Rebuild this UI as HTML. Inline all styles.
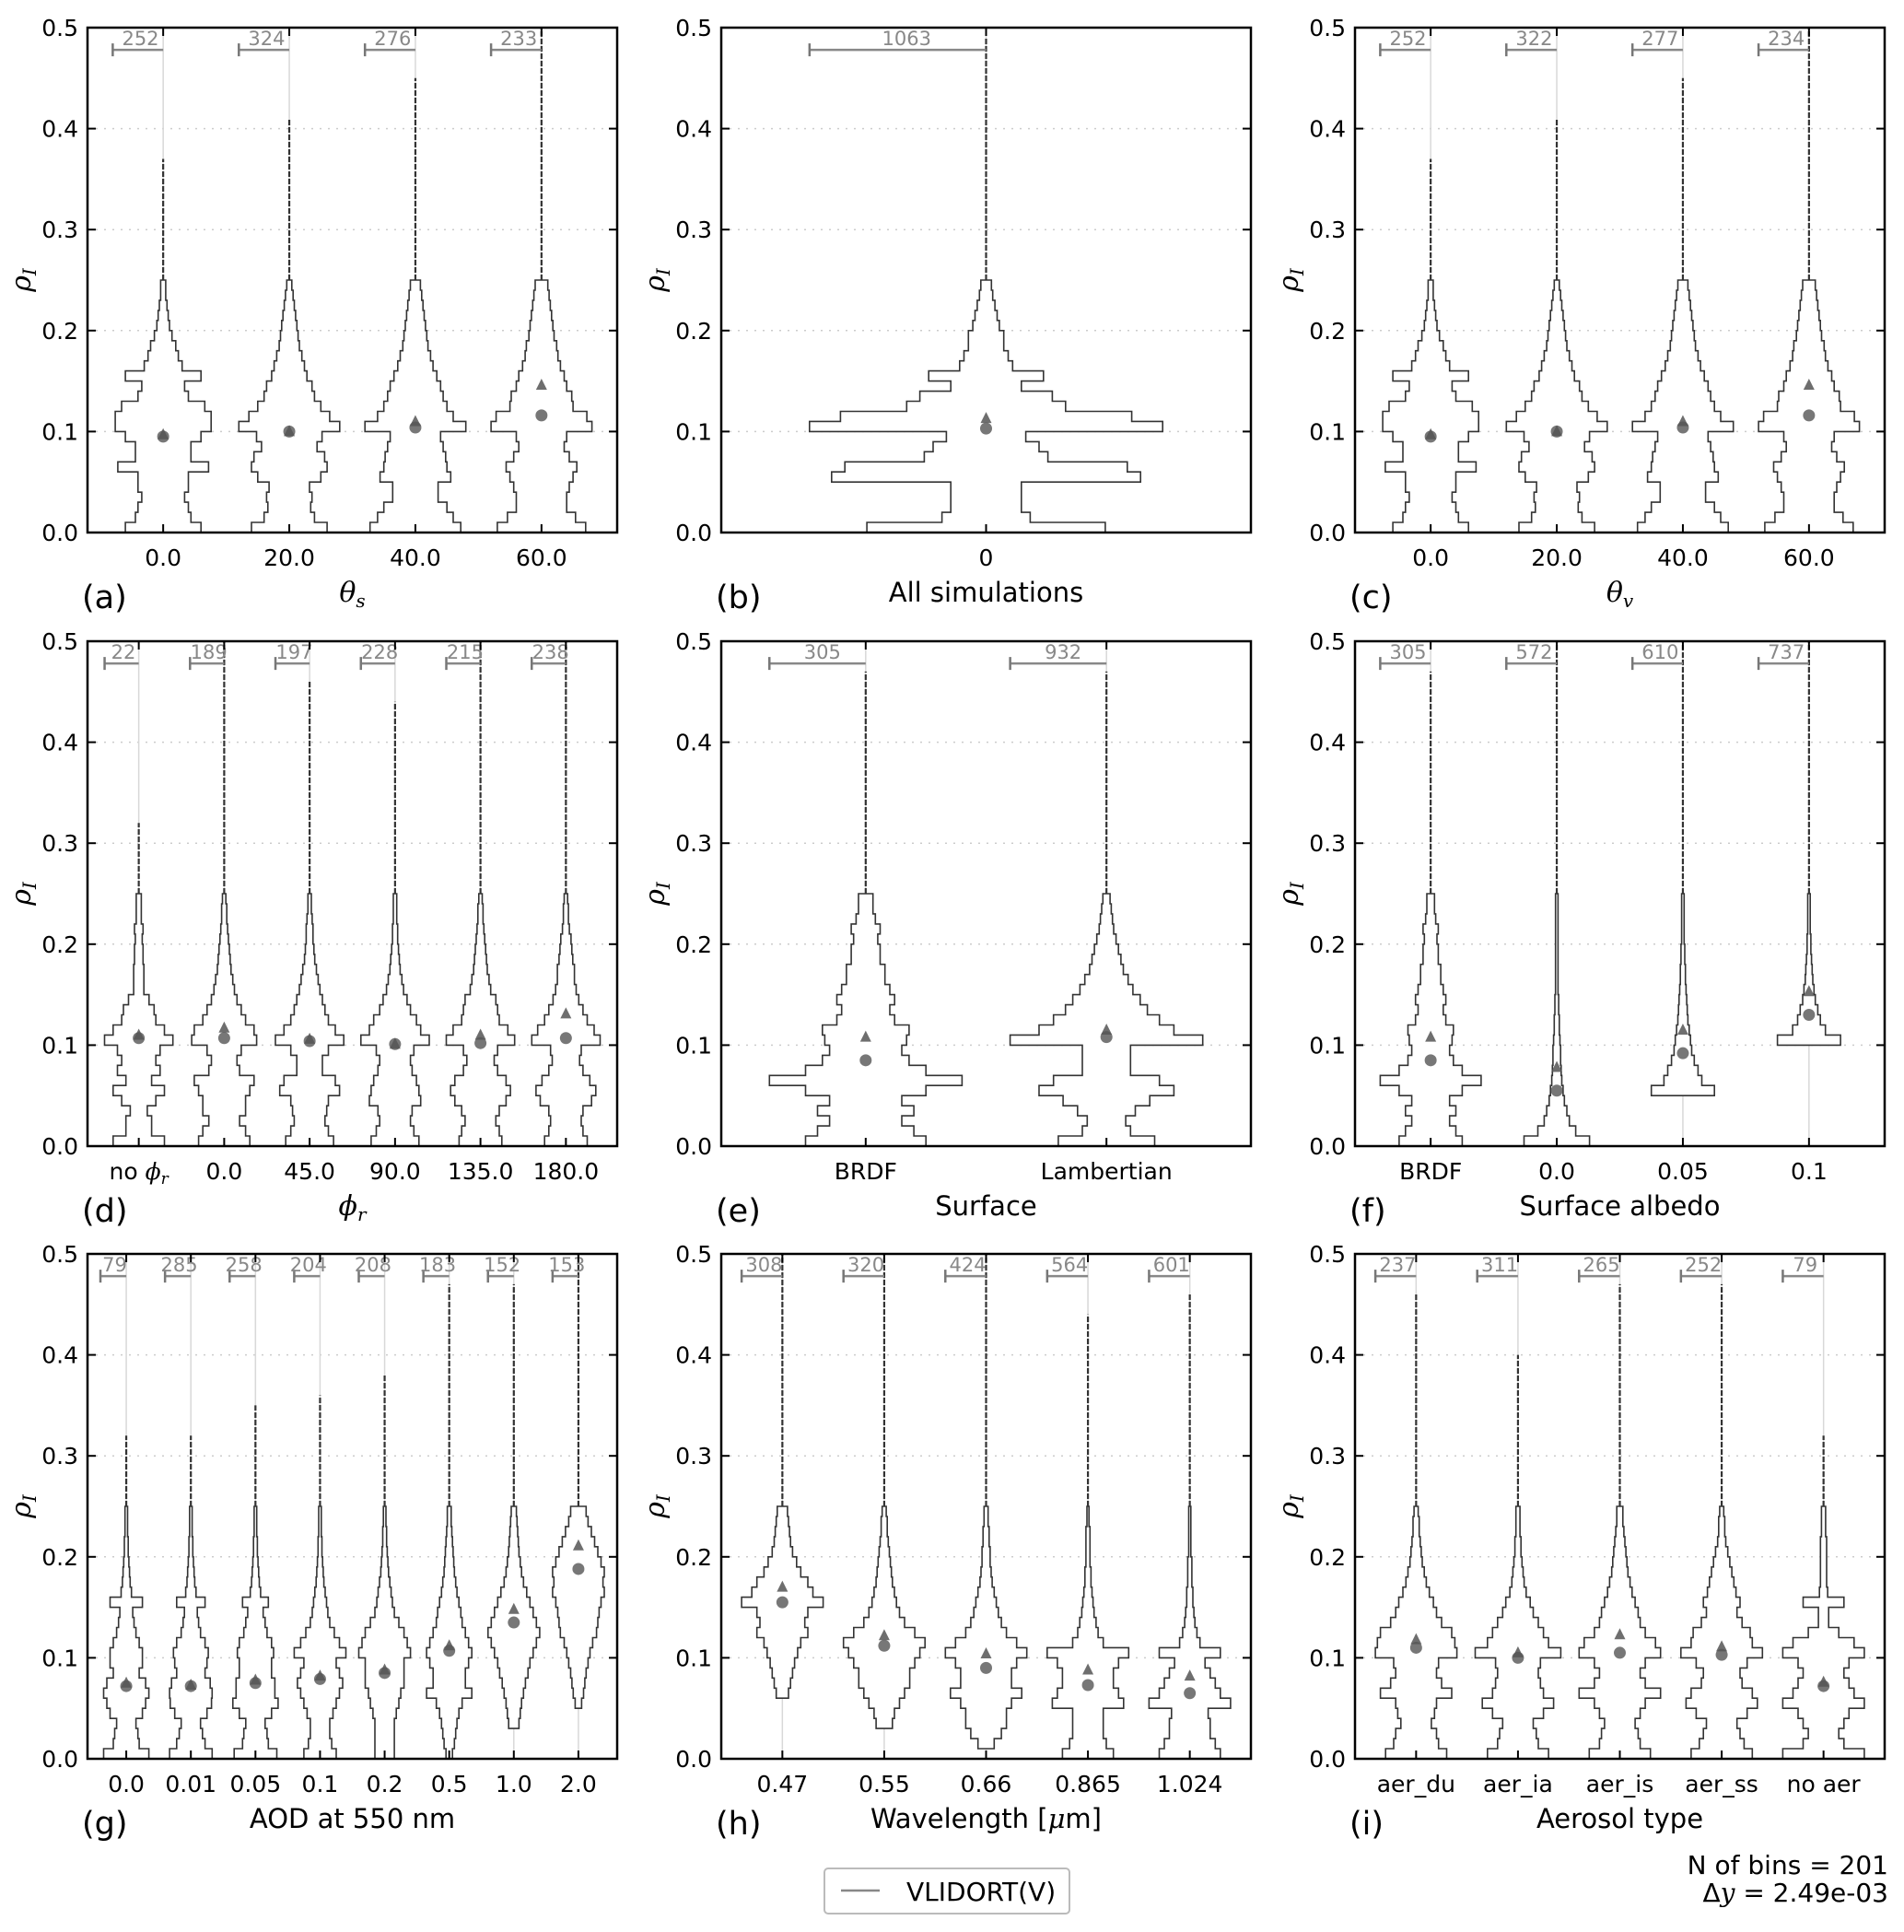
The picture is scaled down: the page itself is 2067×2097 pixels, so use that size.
<!DOCTYPE html>
<html><head><meta charset="utf-8"><title>VLIDORT violin plots</title>
<style>
html,body{margin:0;padding:0;background:#fff;}
svg{display:block;font-family:"DejaVu Sans","Liberation Sans",sans-serif;}
</style></head>
<body>
<svg id="fig" xmlns="http://www.w3.org/2000/svg" width="2067" height="2097" viewBox="0 0 2067 2097"></svg>
<script>
// ---------- data ----------
const aCats=["0.0","20.0","40.0","60.0"];
const aCounts=[252,324,276,233];
const aWidths=[
[0.30,0.22,0.20,0.17,0.20,0.20,0.36,0.22,0.22,0.30,0.38,0.38,0.33,0.20,0.17,0.30,0.15,0.12,0.10,0.07,0.05,0.04,0.03,0.02,0.02],
[0.30,0.20,0.17,0.18,0.16,0.25,0.30,0.28,0.22,0.26,0.40,0.32,0.25,0.20,0.18,0.14,0.12,0.10,0.08,0.07,0.06,0.05,0.04,0.03,0.02],
[0.36,0.30,0.25,0.18,0.18,0.28,0.25,0.24,0.22,0.20,0.40,0.30,0.25,0.22,0.20,0.17,0.14,0.12,0.10,0.09,0.08,0.07,0.06,0.05,0.04],
[0.35,0.27,0.20,0.20,0.22,0.25,0.28,0.22,0.18,0.20,0.40,0.36,0.25,0.24,0.20,0.18,0.15,0.13,0.12,0.10,0.09,0.08,0.07,0.06,0.05]];
const aTails=[0.37,0.41,0.45,0.5];
const aMeans=[0.095,0.100,0.104,0.116];
const aMedTri=[0.097,0.100,0.110,0.146];

const bCats=["0"];
const bCounts=[1063];
const bWidths=[[0.27,0.10,0.08,0.08,0.08,0.35,0.32,0.14,0.12,0.09,0.40,0.33,0.18,0.15,0.08,0.13,0.06,0.05,0.04,0.04,0.03,0.025,0.02,0.015,0.012]];
const bTails=[0.49];
const bMeans=[0.103];
const bMedTri=[0.113];

const cCats=["0.0","20.0","40.0","60.0"];
const cCounts=[252,322,277,234];
const cWidths=[
[0.30,0.22,0.20,0.17,0.20,0.20,0.36,0.22,0.22,0.30,0.38,0.38,0.33,0.20,0.17,0.30,0.15,0.12,0.10,0.07,0.05,0.04,0.03,0.02,0.02],
[0.30,0.20,0.17,0.18,0.16,0.25,0.30,0.28,0.22,0.26,0.40,0.32,0.25,0.20,0.18,0.14,0.12,0.10,0.08,0.07,0.06,0.05,0.04,0.03,0.02],
[0.36,0.30,0.25,0.18,0.18,0.28,0.25,0.24,0.22,0.20,0.40,0.30,0.25,0.22,0.20,0.17,0.14,0.12,0.10,0.09,0.08,0.07,0.06,0.05,0.04],
[0.35,0.27,0.20,0.20,0.22,0.25,0.28,0.22,0.18,0.20,0.40,0.36,0.25,0.24,0.20,0.18,0.15,0.13,0.12,0.10,0.09,0.08,0.07,0.06,0.05]];
const cTails=[0.37,0.41,0.45,0.5];
const cMeans=[0.095,0.100,0.104,0.116];
const cMedTri=[0.097,0.100,0.110,0.146];

const dCats=["no \u03c6r","0.0","45.0","90.0","135.0","180.0"];
const dCounts=[22,189,197,228,215,238];
const dWidths=[
[0.30,0.15,0.15,0.10,0.20,0.30,0.15,0.25,0.20,0.25,0.40,0.30,0.20,0.18,0.12,0.06,0.06,0.06,0.05,0.05,0.04,0.05,0.03,0.03,0.03],
[0.30,0.25,0.18,0.25,0.25,0.30,0.35,0.18,0.15,0.20,0.38,0.35,0.25,0.20,0.15,0.12,0.10,0.08,0.07,0.06,0.05,0.04,0.03,0.03,0.02],
[0.28,0.22,0.18,0.20,0.22,0.35,0.30,0.15,0.15,0.22,0.40,0.30,0.22,0.18,0.15,0.12,0.10,0.08,0.06,0.05,0.04,0.04,0.03,0.02,0.02],
[0.28,0.22,0.18,0.20,0.30,0.28,0.25,0.20,0.18,0.22,0.40,0.30,0.25,0.18,0.14,0.10,0.08,0.06,0.05,0.04,0.03,0.03,0.02,0.02,0.02],
[0.25,0.22,0.18,0.22,0.30,0.35,0.30,0.20,0.16,0.20,0.40,0.32,0.22,0.20,0.18,0.12,0.10,0.08,0.07,0.06,0.05,0.04,0.03,0.03,0.02],
[0.25,0.20,0.18,0.20,0.30,0.35,0.28,0.20,0.16,0.18,0.40,0.33,0.25,0.20,0.15,0.12,0.10,0.10,0.08,0.07,0.06,0.04,0.03,0.03,0.02]];
const dTails=[0.32,0.5,0.46,0.44,0.5,0.5];
const dMeans=[0.107,0.107,0.104,0.101,0.102,0.107];
const dMedTri=[0.110,0.117,0.106,0.101,0.110,0.131];

const eCats=["BRDF","Lambertian"];
const eCounts=[305,932];
const eWidths=[
[0.25,0.20,0.15,0.20,0.15,0.25,0.40,0.25,0.18,0.15,0.17,0.18,0.12,0.10,0.12,0.10,0.08,0.08,0.06,0.06,0.05,0.06,0.04,0.03,0.03],
[0.20,0.10,0.08,0.12,0.18,0.28,0.22,0.10,0.10,0.10,0.40,0.28,0.22,0.17,0.14,0.11,0.09,0.07,0.06,0.05,0.04,0.03,0.025,0.02,0.015]];
const eTails=[0.47,0.47];
const eMeans=[0.085,0.108];
const eMedTri=[0.108,0.115];

const fCats=["BRDF","0.0","0.05","0.1"];
const fCounts=[305,572,610,737];
const fWidths=[
[0.25,0.20,0.15,0.20,0.15,0.25,0.40,0.25,0.18,0.15,0.17,0.18,0.12,0.10,0.12,0.10,0.08,0.08,0.06,0.06,0.05,0.06,0.04,0.03,0.03],
[0.26,0.15,0.10,0.08,0.06,0.05,0.04,0.035,0.03,0.03,0.025,0.02,0.02,0.015,0.015,0.01,0.01,0.01,0.01,0.01,0.01,0.01,0.01,0.01,0.01],
[0,0,0,0,0,0.25,0.15,0.12,0.09,0.07,0.06,0.05,0.04,0.035,0.03,0.025,0.02,0.02,0.015,0.015,0.01,0.01,0.01,0.01,0.01],
[0,0,0,0,0,0,0,0,0,0,0.25,0.13,0.09,0.07,0.05,0.04,0.03,0.025,0.02,0.015,0.015,0.01,0.01,0.01,0.01]];
const fTails=[0.47,0.5,0.5,0.5];
const fMeans=[0.085,0.055,0.092,0.130];
const fMedTri=[0.108,0.078,0.115,0.153];

const gCats=["0.0","0.01","0.05","0.1","0.2","0.5","1.0","2.0"];
const gCounts=[79,285,258,204,208,183,152,153];
const gWidths=[
[0.35,0.20,0.18,0.15,0.25,0.30,0.35,0.30,0.20,0.25,0.25,0.20,0.15,0.12,0.10,0.25,0.08,0.06,0.05,0.04,0.03,0.03,0.02,0.02,0.02],
[0.33,0.22,0.18,0.15,0.25,0.32,0.33,0.30,0.22,0.25,0.27,0.22,0.15,0.12,0.10,0.22,0.08,0.06,0.05,0.04,0.03,0.03,0.02,0.02,0.02],
[0.33,0.20,0.18,0.15,0.25,0.35,0.30,0.30,0.25,0.25,0.28,0.25,0.18,0.15,0.12,0.20,0.08,0.06,0.05,0.04,0.03,0.03,0.02,0.02,0.02],
[0.25,0.18,0.15,0.15,0.20,0.25,0.30,0.35,0.30,0.25,0.40,0.30,0.22,0.15,0.12,0.10,0.08,0.06,0.05,0.04,0.03,0.03,0.02,0.02,0.02],
[0.15,0.15,0.15,0.15,0.18,0.22,0.25,0.30,0.30,0.30,0.40,0.35,0.30,0.22,0.15,0.12,0.10,0.08,0.06,0.05,0.04,0.03,0.03,0.02,0.02],
[0.05,0.08,0.10,0.12,0.15,0.20,0.35,0.25,0.25,0.30,0.35,0.30,0.25,0.20,0.18,0.15,0.12,0.10,0.08,0.07,0.06,0.05,0.04,0.03,0.03],
[0,0,0,0.08,0.10,0.12,0.15,0.18,0.22,0.25,0.30,0.35,0.40,0.35,0.30,0.25,0.20,0.15,0.12,0.10,0.08,0.07,0.06,0.05,0.04],
[0,0,0,0,0,0.05,0.08,0.10,0.12,0.15,0.18,0.22,0.28,0.30,0.32,0.35,0.40,0.38,0.40,0.35,0.30,0.25,0.20,0.15,0.12]];
const gTails=[0.32,0.32,0.35,0.36,0.38,0.47,0.47,0.5];
const gMeans=[0.072,0.072,0.075,0.079,0.085,0.107,0.135,0.188];
const gMedTri=[0.075,0.073,0.078,0.082,0.088,0.112,0.148,0.211];

const hCats=["0.47","0.55","0.66","0.865","1.024"];
const hCounts=[308,320,424,564,601];
const hWidths=[
[0,0,0,0,0,0,0.06,0.08,0.10,0.12,0.15,0.18,0.25,0.22,0.25,0.40,0.30,0.25,0.18,0.14,0.10,0.08,0.07,0.06,0.05],
[0,0,0,0.08,0.10,0.15,0.20,0.25,0.25,0.30,0.35,0.40,0.30,0.20,0.15,0.12,0.10,0.08,0.07,0.06,0.05,0.04,0.03,0.03,0.02],
[0,0.08,0.15,0.20,0.20,0.25,0.35,0.25,0.25,0.30,0.40,0.30,0.20,0.15,0.12,0.10,0.08,0.06,0.05,0.04,0.04,0.03,0.03,0.02,0.02],
[0.25,0.18,0.15,0.15,0.15,0.35,0.30,0.25,0.25,0.30,0.40,0.15,0.10,0.08,0.06,0.05,0.04,0.03,0.03,0.02,0.02,0.02,0.02,0.01,0.01],
[0.30,0.25,0.20,0.20,0.18,0.40,0.30,0.25,0.20,0.15,0.30,0.10,0.07,0.05,0.04,0.03,0.03,0.02,0.02,0.02,0.01,0.01,0.01,0.01,0.01]];
const hTails=[0.5,0.5,0.5,0.44,0.46];
const hMeans=[0.155,0.112,0.090,0.073,0.065];
const hMedTri=[0.170,0.122,0.104,0.088,0.082];

const iCats=["aer_du","aer_ia","aer_is","aer_ss","no aer"];
const iCounts=[237,311,265,252,79];
const iWidths=[
[0.30,0.22,0.20,0.15,0.18,0.20,0.35,0.25,0.20,0.22,0.40,0.38,0.35,0.25,0.20,0.17,0.13,0.10,0.08,0.06,0.05,0.04,0.03,0.03,0.02],
[0.30,0.20,0.18,0.15,0.25,0.35,0.25,0.22,0.20,0.22,0.42,0.30,0.25,0.20,0.15,0.12,0.08,0.06,0.05,0.04,0.03,0.03,0.02,0.02,0.02],
[0.30,0.20,0.18,0.15,0.20,0.25,0.40,0.25,0.20,0.25,0.40,0.35,0.25,0.20,0.18,0.15,0.12,0.10,0.08,0.07,0.06,0.05,0.04,0.03,0.03],
[0.30,0.22,0.18,0.15,0.25,0.35,0.30,0.20,0.18,0.25,0.40,0.30,0.28,0.20,0.15,0.18,0.14,0.12,0.10,0.08,0.06,0.04,0.03,0.03,0.02],
[0.40,0.20,0.15,0.20,0.25,0.40,0.30,0.25,0.20,0.25,0.40,0.30,0.15,0.05,0.05,0.20,0.04,0.03,0.03,0.03,0.03,0.03,0.02,0.02,0.02]];
const iTails=[0.46,0.40,0.47,0.47,0.32];
const iMeans=[0.110,0.100,0.105,0.103,0.072];
const iMedTri=[0.118,0.105,0.123,0.111,0.076];

const yTicks=[0.0,0.1,0.2,0.3,0.4,0.5];
const yTickLabels=["0.0","0.1","0.2","0.3","0.4","0.5"];
const binStep=0.01;

// ---------- layout ----------
const NS="http://www.w3.org/2000/svg";
const svg=document.getElementById('fig');
const colL=[95,783,1471], rowT=[30,696,1361], PW=575, PH=548, YMAX=0.5;
function mk(tag,attrs,parent){const e=document.createElementNS(NS,tag);for(const k in attrs)e.setAttribute(k,attrs[k]);(parent||svg).appendChild(e);return e;}

const panels=[
 {id:'a',cats:aCats,counts:aCounts,w:aWidths,t:aTails,m:aMeans,tr:aMedTri,xl:'theta_s'},
 {id:'b',cats:bCats,counts:bCounts,w:bWidths,t:bTails,m:bMeans,tr:bMedTri,xl:'All simulations'},
 {id:'c',cats:cCats,counts:cCounts,w:cWidths,t:cTails,m:cMeans,tr:cMedTri,xl:'theta_v'},
 {id:'d',cats:dCats,counts:dCounts,w:dWidths,t:dTails,m:dMeans,tr:dMedTri,xl:'phi_r'},
 {id:'e',cats:eCats,counts:eCounts,w:eWidths,t:eTails,m:eMeans,tr:eMedTri,xl:'Surface'},
 {id:'f',cats:fCats,counts:fCounts,w:fWidths,t:fTails,m:fMeans,tr:fMedTri,xl:'Surface albedo'},
 {id:'g',cats:gCats,counts:gCounts,w:gWidths,t:gTails,m:gMeans,tr:gMedTri,xl:'AOD at 550 nm'},
 {id:'h',cats:hCats,counts:hCounts,w:hWidths,t:hTails,m:hMeans,tr:hMedTri,xl:'wavelength'},
 {id:'i',cats:iCats,counts:iCounts,w:iWidths,t:iTails,m:iMeans,tr:iMedTri,xl:'Aerosol type'}
];

panels.forEach((p,pi)=>{
  const L=colL[pi%3], T=rowT[Math.floor(pi/3)], B=T+PH, R=L+PW;
  const n=p.cats.length, sp=PW/(n-1+1.2);
  const xS=i=>L+sp*(0.6+i);
  const yS=v=>T+PH*(1-v/YMAX);
  const g=mk('g',{});
  
  
  yTicks.forEach((v,k)=>{
    if(k>0&&k<yTicks.length-1){
      const gl=mk('line',{x1:L,x2:R,y1:yS(v),y2:yS(v),stroke:'#ccc','stroke-width':1.5,'stroke-dasharray':'2,7'},g);
      
      
    }
    const tl=mk('line',{x1:L,x2:L+9,y1:yS(v),y2:yS(v),stroke:'#000','stroke-width':2},g);
    
    
    mk('line',{x1:R-9,x2:R,y1:yS(v),y2:yS(v),stroke:'#000','stroke-width':2},g);
    const tx=mk('text',{x:L-10,y:yS(v)+9,'text-anchor':'end','font-size':25},g);
    tx.textContent=yTickLabels[k];
    
    
  });
  p.cats.forEach((c,i)=>{
    const cx=xS(i);
    const cl=mk('line',{x1:cx,x2:cx,y1:T,y2:B,stroke:'#d8d8d8','stroke-width':1.5},g);
    
    
    const w=p.w[i];
    let k0=0; while(k0<w.length&&w[k0]===0)k0++;
    let right=[],left=[];
    for(let k=k0;k<w.length;k++){
      const y0=yS(k*binStep), y1=yS((k+1)*binStep), xx=w[k]*sp;
      right.push([cx+xx,y0]);right.push([cx+xx,y1]);
      left.push([cx-xx,y0]);left.push([cx-xx,y1]);
    }
    const topY=yS(w.length*binStep);
    const pts=right.concat([[cx,topY]]).concat(left.reverse());
    const path=mk('path',{d:'M'+pts.map(q=>q[0].toFixed(1)+','+q[1].toFixed(1)).join('L')+'Z',fill:'#fff',stroke:'#333','stroke-width':1.6,'stroke-linejoin':'miter'},g);
    
    
    const tail=mk('line',{x1:cx,x2:cx,y1:topY,y2:yS(p.t[i]),stroke:'#333','stroke-width':2.2,'stroke-dasharray':'6,2'},g);
    
    
    const ty=yS(p.tr[i]);
    const tri=mk('path',{d:`M${cx-6},${ty+5}L${cx+6},${ty+5}L${cx},${ty-7}Z`,fill:'#555','fill-opacity':0.85},g);
    
    
    const circ=mk('circle',{cx:cx,cy:yS(p.m[i]),r:6.5,fill:'#555','fill-opacity':0.8},g);
    
    
    const wl=0.4*sp, wy=yS(0.478);
    const bar=mk('line',{x1:cx-wl,x2:cx,y1:wy,y2:wy,stroke:'#888','stroke-width':2.5},g);
    
    
    mk('line',{x1:cx-wl,x2:cx-wl,y1:wy-7,y2:wy+7,stroke:'#777','stroke-width':2.5},g);
    const ct=mk('text',{x:cx-wl*0.45,y:wy-5,'text-anchor':'middle','font-size':21,fill:'#888'},g);
    ct.textContent=p.counts[i];
    
    
    mk('line',{x1:cx,x2:cx,y1:B-9,y2:B,stroke:'#000','stroke-width':2},g);
    mk('line',{x1:cx,x2:cx,y1:T,y2:T+9,stroke:'#000','stroke-width':2},g);
    const xt=mk('text',{x:cx,y:B+36,'text-anchor':'middle','font-size':25},g);
    if(c.indexOf('\u03c6r')>=0){
      xt.textContent='no ';
      const ts=mk('tspan',{'font-family':'"DejaVu Serif",serif','font-style':'italic'},xt);ts.textContent='\u03d5';
      const ts2=mk('tspan',{'font-family':'"DejaVu Serif",serif','font-style':'italic','font-size':17,dy:5},xt);ts2.textContent='r';
    } else xt.textContent=c;
    
    
  });
  const fr=mk('rect',{x:L,y:T,width:PW,height:PH,fill:'none',stroke:'#000','stroke-width':2.5},g);
  
  
  const pl=mk('text',{x:L-6,y:B+82,'font-size':35},g);
  pl.textContent='('+p.id+')';
  
  
  const xl=mk('text',{x:L+PW/2,y:B+75,'text-anchor':'middle','font-size':29},g);
  
  
  const greek={theta_s:['\u03b8','s'],theta_v:['\u03b8','v'],phi_r:['\u03d5','r']};
  if(greek[p.xl]){
    const a=mk('tspan',{'font-family':'"DejaVu Serif",serif','font-style':'italic','font-size':30},xl);a.textContent=greek[p.xl][0];
    const b=mk('tspan',{'font-family':'"DejaVu Serif",serif','font-style':'italic','font-size':20,dy:6},xl);b.textContent=greek[p.xl][1];
  } else if(p.xl==='wavelength'){
    const a=mk('tspan',{},xl);a.textContent='Wavelength [';
    const b=mk('tspan',{'font-family':'"DejaVu Serif",serif','font-style':'italic'},xl);b.textContent='\u03bc';
    const c2=mk('tspan',{},xl);c2.textContent='m]';
  } else xl.textContent=p.xl;
  const yl=mk('text',{x:0,y:0,'text-anchor':'middle','font-size':30,'font-family':'"DejaVu Serif",serif','font-style':'italic',transform:`translate(${L-62},${T+PH/2}) rotate(-90)`},g);
  
  
  const r1=mk('tspan',{},yl);r1.textContent='\u03c1';
  const r2=mk('tspan',{'font-size':20,dy:6},yl);r2.textContent='I';
});

const lg=mk('g',{});


mk('rect',{x:895,y:2028,width:266,height:49,rx:4,fill:'#fff',stroke:'#bbb','stroke-width':2},lg);
const ll=mk('line',{x1:913,x2:955,y1:2052,y2:2052,stroke:'#888','stroke-width':2.5},lg);


const lt=mk('text',{x:984,y:2063,'font-size':28},lg);
lt.textContent='VLIDORT(V)';



const n1=mk('text',{x:2050,y:2034,'text-anchor':'end','font-size':28});
n1.textContent='N of bins = 201';


const n2=mk('text',{x:2050,y:2064,'text-anchor':'end','font-size':28});
const d1=mk('tspan',{},n2);d1.textContent='\u0394';
const d2=mk('tspan',{'font-family':'"DejaVu Serif",serif','font-style':'italic'},n2);d2.textContent='y';
const d3=mk('tspan',{},n2);d3.textContent=' =  2.49e-03';


</script>
</body></html>
